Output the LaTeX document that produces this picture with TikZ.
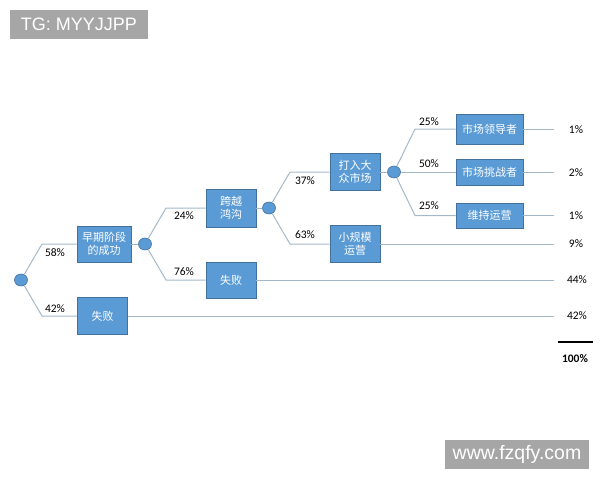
\documentclass[tikz,border=0pt]{standalone}
\usepackage{fontspec}
\setmainfont{Carlito}
\newfontfamily\cjk{Noto Sans CJK SC}
\newfontfamily\arialf{Liberation Sans}
\definecolor{boxfill}{HTML}{5B9BD5}
\definecolor{boxdraw}{HTML}{41719C}
\definecolor{linec}{HTML}{A3B9C9}
\definecolor{wmgray}{HTML}{A6A6A6}
\tikzset{
  box/.style={draw=boxdraw, fill=boxfill, line width=0.8pt, text=white, align=center,
    font=\cjk\fontsize{11}{13}\selectfont, inner sep=0pt},
  chance/.style={ellipse, draw=boxdraw, fill=boxfill, line width=0.6pt, minimum width=13pt, minimum height=12pt, inner sep=0pt},
  ln/.style={draw=linec, line width=1pt},
  pct/.style={font=\fontsize{11.5}{13}\selectfont, text=black, inner sep=0pt},
  wm/.style={fill=wmgray, text=white, inner sep=0pt, font=\arialf\fontsize{18}{20}\selectfont}
}
\usetikzlibrary{shapes.geometric}
\begin{document}
\begin{tikzpicture}[x=1pt,y=-1pt]
\useasboundingbox (0,0) rectangle (600,480);
% watermarks
\node[wm, minimum width=138pt, minimum height=29pt] (wm1) at (79,24.5) {TG: MYYJJPP};
\node[wm, minimum width=144pt, minimum height=29pt, font=\arialf\fontsize{19.5}{21}\selectfont] (wm2) at (517,454.5) {www.fzqfy.com};
% chance nodes
\node[chance] (c1) at (21,280) {};
\node[chance] (c2) at (145,244) {};
\node[chance] (c3) at (269,208) {};
\node[chance] (c4) at (394,172) {};
% boxes
\node[box, minimum width=54pt, minimum height=36pt] (early) at (104,244) {早期阶段\\的成功};
\node[box, minimum width=50pt, minimum height=37pt] (fail1) at (102.5,316) {失败};
\node[box, minimum width=50pt, minimum height=38pt] (chasm) at (231,208) {跨越\\鸿沟};
\node[box, minimum width=50pt, minimum height=36pt] (fail2) at (231,280) {失败};
\node[box, minimum width=50pt, minimum height=37pt] (mass) at (355,172) {打入大\\众市场};
\node[box, minimum width=50pt, minimum height=37pt] (small) at (355,244) {小规模\\运营};
\node[box, minimum width=67pt, minimum height=30pt] (lead) at (489.5,129) {市场领导者};
\node[box, minimum width=67pt, minimum height=26pt] (chal) at (489.5,172) {市场挑战者};
\node[box, minimum width=67pt, minimum height=25pt] (keep) at (489.5,215.5) {维持运营};
% bend coordinates
\coordinate (k1u) at (42,244);
\coordinate (k1d) at (42,316);
\coordinate (k2u) at (166,208);
\coordinate (k2d) at (166,280);
\coordinate (k3u) at (290,172);
\coordinate (k3d) at (290,244);
\coordinate (k4u) at (415,129);
\coordinate (k4d) at (415,215.5);
% end coordinates
\coordinate (e1) at (554,129);
\coordinate (e2) at (554,172);
\coordinate (e3) at (554,215.5);
\coordinate (e4) at (554,244);
\coordinate (e5) at (554,280);
\coordinate (e6) at (554,316);
% connectors
\draw[ln] (c1) -- (k1u) -- (early.west);
\draw[ln] (c1) -- (k1d) -- (fail1.west);
\draw[ln] (early.east) -- (c2);
\draw[ln] (c2) -- (k2u) -- (chasm.west);
\draw[ln] (c2) -- (k2d) -- (fail2.west);
\draw[ln] (chasm.east) -- (c3);
\draw[ln] (c3) -- (k3u) -- (mass.west);
\draw[ln] (c3) -- (k3d) -- (small.west);
\draw[ln] (mass.east) -- (c4);
\draw[ln] (c4) -- (k4u) -- (lead.west);
\draw[ln] (c4) -- (chal.west);
\draw[ln] (c4) -- (k4d) -- (keep.west);
\draw[ln] (lead.east) -- (e1);
\draw[ln] (chal.east) -- (e2);
\draw[ln] (keep.east) -- (e3);
\draw[ln] (small.east) -- (e4);
\draw[ln] (fail2.east) -- (e5);
\draw[ln] (fail1.east) -- (e6);
% branch labels
\node[pct] (p58) at (55,253) {58\%};
\node[pct] (p42) at (55,309) {42\%};
\node[pct] (p24) at (184,216) {24\%};
\node[pct] (p76) at (184,272) {76\%};
\node[pct] (p37) at (305,181) {37\%};
\node[pct] (p63) at (305,235) {63\%};
\node[pct] (p25a) at (429,122) {25\%};
\node[pct] (p50) at (429,164) {50\%};
\node[pct] (p25b) at (429,206) {25\%};
% end labels
\node[pct] (r1) at (576,130) {1\%};
\node[pct] (r2) at (576,173) {2\%};
\node[pct] (r3) at (576,216) {1\%};
\node[pct] (r4) at (576,244) {9\%};
\node[pct] (r5) at (577,280) {44\%};
\node[pct] (r6) at (577,316) {42\%};
\coordinate (s1) at (558,342);
\coordinate (s2) at (593,342);
\draw[line width=2pt] (s1) -- (s2);
\node[pct, font=\bfseries\fontsize{11.5}{13}\selectfont] (tot) at (575,359) {100\%};
\end{tikzpicture}
\end{document}
